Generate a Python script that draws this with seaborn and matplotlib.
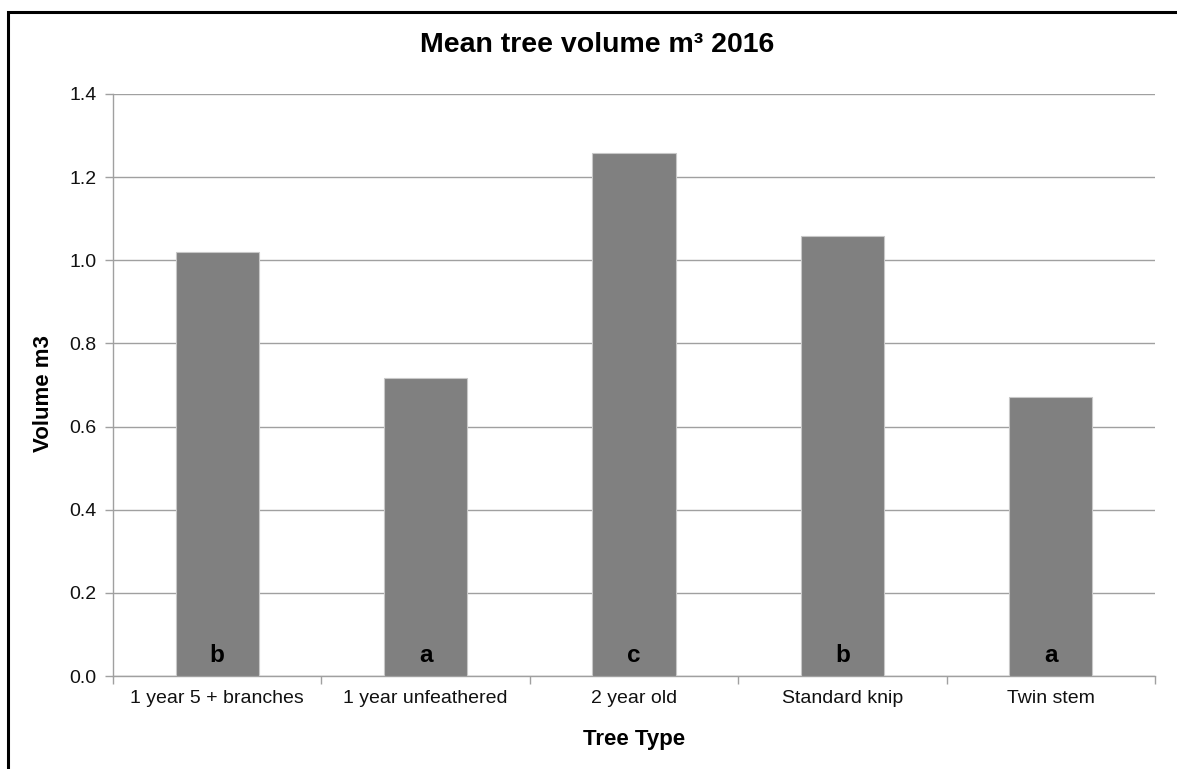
import matplotlib
matplotlib.use("Agg")
import matplotlib.pyplot as plt
from matplotlib.patches import Rectangle
from matplotlib.ticker import FixedLocator, MultipleLocator, FormatStrFormatter
import seaborn as sns
import pandas as pd

tree_types = ["1 year 5 + branches", "1 year unfeathered", "2 year old",
              "Standard knip", "Twin stem"]
mean_volume = [1.02, 0.717, 1.257, 1.058, 0.671]
group_letters = ["b", "a", "c", "b", "a"]

sns.set_theme(style="white")
plt.rcParams["font.family"] = ["Liberation Sans", "DejaVu Sans"]
plt.rcParams["text.color"] = "black"
plt.rcParams["axes.labelcolor"] = "black"

df = pd.DataFrame({"Tree Type": tree_types, "Volume": mean_volume})

fig = plt.figure(figsize=(11.77, 7.69), dpi=100)
ax = fig.add_axes([0.096, 0.1209, 0.8853, 0.7569])

sns.barplot(data=df, x="Tree Type", y="Volume", color="#808080",
            saturation=1, width=0.4, edgecolor="#c8c8c8", linewidth=0.8,
            ax=ax, zorder=3)

ax.set_ylim(0, 1.4)
ax.set_xlim(-0.5, len(tree_types) - 0.5)
ax.yaxis.set_major_locator(MultipleLocator(0.2))
ax.yaxis.set_major_formatter(FormatStrFormatter("%.1f"))
ax.grid(axis="y", color="#a0a0a0", linewidth=1.0, zorder=0)
ax.set_axisbelow(True)

for side in ("top", "right"):
    ax.spines[side].set_visible(False)
for side in ("left", "bottom"):
    ax.spines[side].set_color("#a0a0a0")
    ax.spines[side].set_linewidth(1.0)

# category separators as tick marks on the x axis
ax.xaxis.set_minor_locator(FixedLocator([i - 0.5 for i in range(len(tree_types) + 1)]))
ax.tick_params(axis="x", which="major", bottom=False, length=0, pad=10,
               labelsize=14, labelcolor="#111111")
ax.tick_params(axis="x", which="minor", bottom=True, length=6, width=1.0,
               color="#a0a0a0", direction="out")
ax.tick_params(axis="y", which="major", left=True, length=6, width=1.0,
               color="#a0a0a0", direction="out", pad=6, labelsize=14,
               labelcolor="#111111")

ax.set_xlabel("Tree Type", fontsize=16, fontweight="bold", labelpad=16)
ax.set_ylabel("Volume m3", fontsize=16, fontweight="bold")
ax.yaxis.set_label_coords(-0.0563, 0.486)

for i, letter in enumerate(group_letters):
    ax.text(i, 0.05, letter, ha="center", va="center", fontsize=17.5,
            fontweight="bold", color="black", zorder=4)

fig.text(0.507, 0.942, "Mean tree volume m³ 2016", ha="center", va="center",
         fontsize=20.5, fontweight="bold", color="black")

# outer chart frame
fig.patches.append(Rectangle((8 / 1177, -0.05), 1.1, 1 - 12 / 769 + 0.05,
                             transform=fig.transFigure, fill=False,
                             edgecolor="black", linewidth=2.2, clip_on=False))

fig.savefig("out.png", dpi=100)
